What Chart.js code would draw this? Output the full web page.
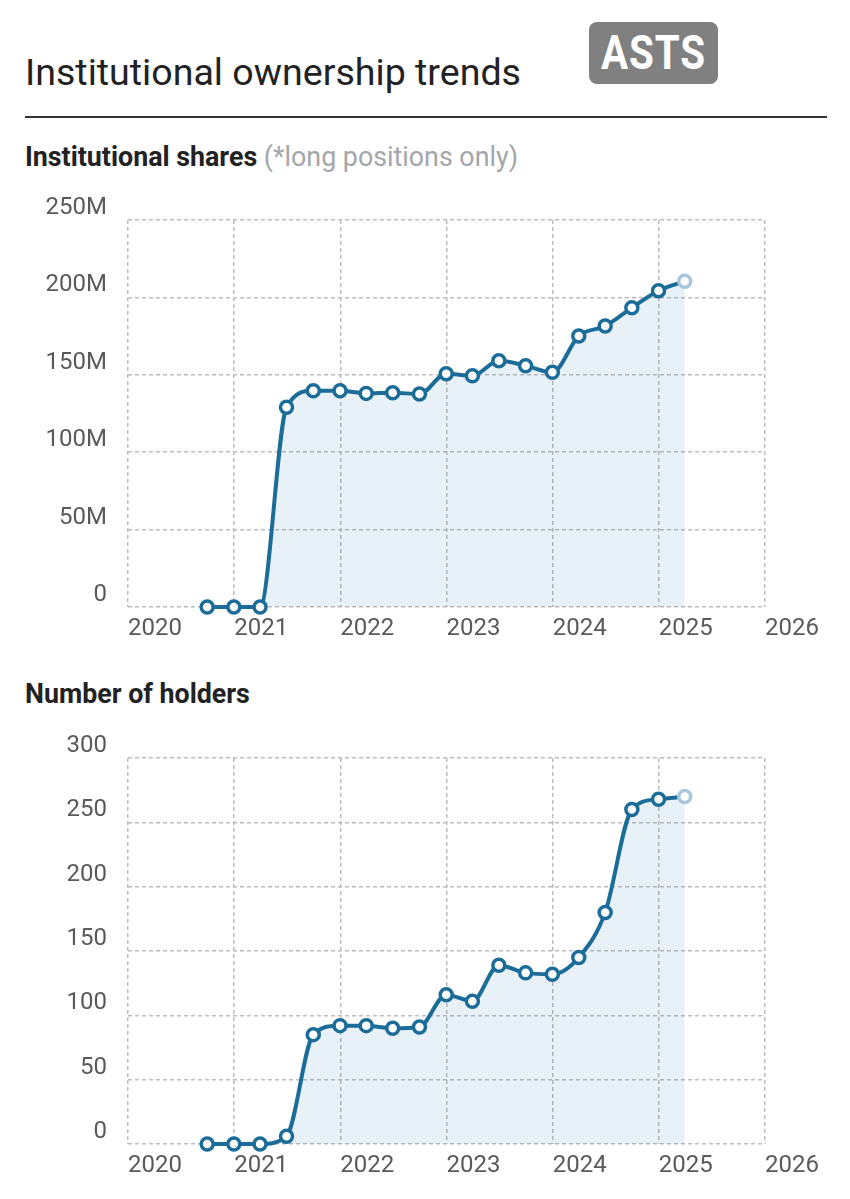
<!DOCTYPE html>
<html>
<head>
<meta charset="utf-8">
<script src="https://cdn.jsdelivr.net/npm/chart.js@4.4.1/dist/chart.umd.min.js"></script>
<style>
  html, body { margin: 0; padding: 0; background: #fff; }
  body { width: 850px; height: 1199px; position: relative; overflow: hidden; font-family: Roboto, "Noto Sans", sans-serif; }
  #title { position: absolute; left: 25px; top: 52px; font-size: 37.6px; line-height: 40px; color: #222; white-space: nowrap; }
  #logo { position: absolute; left: 589px; top: 22px; width: 129px; height: 62px; background: #808080; border-radius: 8px; }
  #logo span { position: absolute; left: 0; width: 129px; top: 7px; text-align: center; font-family: Roboto, sans-serif; font-weight: 700; font-size: 48px; line-height: 48px; color: #fff; transform: scaleX(0.84); transform-origin: 50% 50%; letter-spacing: 1px; }
  #rule { position: absolute; left: 25px; top: 116px; width: 802px; height: 2px; background: #333; }
  .h { position: absolute; left: 25px; font-size: 26.8px; line-height: 30px; font-weight: 700; color: #222; white-space: nowrap; }
  .h .note { font-weight: 400; color: #a3a6aa; }
  #h1 { top: 142px; }
  #h2 { top: 679px; }
  .wrap { position: absolute; left: 0; width: 850px; }
  #w1 { top: 190px; height: 460px; }
  #w2 { top: 728px; height: 471px; }
  canvas { display: block; }
</style>
</head>
<body>
<div id="title">Institutional ownership trends</div>
<div id="logo"><span>ASTS</span></div>
<div id="rule"></div>
<div id="h1" class="h">Institutional shares <span class="note">(*long positions only)</span></div>
<div id="w1" class="wrap"><canvas id="c1" width="850" height="460"></canvas></div>
<div id="h2" class="h">Number of holders</div>
<div id="w2" class="wrap"><canvas id="c2" width="850" height="471"></canvas></div>
<script>
// ---- data ----
const quarterDates = ['2020-09-30','2020-12-31','2021-03-31','2021-06-30','2021-09-30','2021-12-31',
  '2022-03-31','2022-06-30','2022-09-30','2022-12-31','2023-03-31','2023-06-30','2023-09-30',
  '2023-12-31','2024-03-31','2024-06-30','2024-09-30','2024-12-31','2025-03-31'];
const sharesMillions = [0, 0, 0, 129, 139.7, 139.7, 138, 138.4, 137.6, 150.7, 149.4, 159.1, 155.9,
  151.6, 175.1, 181.5, 193.3, 204.3, 210.4];
const holders = [0, 0, 0, 6, 85, 92, 92, 90, 91, 116, 111, 139, 133, 132, 145, 180, 260, 268, 270];
const yearTicks = [2020, 2021, 2022, 2023, 2024, 2025, 2026];
const sharesTicks = [0, 50, 100, 150, 200, 250];
const holderTicks = [0, 50, 100, 150, 200, 250, 300];

// ---- styling ----
const LINE = '#1c6c9a';
const LAST = '#a9c7db';
const FILL = 'rgba(25,115,185,0.1)';
const GRID = '#bdbdbd';
const TICK = '#5a5a5a';

function toYear(s) {
  const d = new Date(s + 'T00:00:00Z');
  const y = d.getUTCFullYear();
  const start = Date.UTC(y, 0, 1), end = Date.UTC(y + 1, 0, 1);
  return y + (d.getTime() - start) / (end - start);
}
const xs = quarterDates.map(toYear);

function makeChart(id, values, yTicks, fmt, xAxisH, padTop) {
  const pts = values.map((v, i) => ({ x: xs[i], y: v }));
  const borderColors = values.map((v, i) => i === values.length - 1 ? LAST : LINE);
  return new Chart(document.getElementById(id), {
    type: 'line',
    data: {
      datasets: [{
        data: pts,
        borderColor: LINE,
        borderWidth: 4,
        backgroundColor: FILL,
        fill: 'origin',
        cubicInterpolationMode: 'monotone',
        pointRadius: 6,
        pointBorderWidth: 3.5,
        pointBackgroundColor: '#fff',
        pointBorderColor: borderColors,
        clip: false
      }]
    },
    options: {
      responsive: false,
      animation: false,
      events: [],
      layout: { padding: { left: 0, right: 85, top: padTop, bottom: 0 } },
      plugins: { legend: { display: false }, tooltip: { enabled: false } },
      scales: {
        x: {
          type: 'linear',
          min: yearTicks[0],
          max: yearTicks[yearTicks.length - 1],
          afterBuildTicks: s => { s.ticks = yearTicks.map(v => ({ value: v })); },
          afterFit: s => { s.height = xAxisH; s.paddingLeft = 0; s.paddingRight = 0; },
          grid: { color: GRID, lineWidth: 1.5, drawTicks: false },
          border: { display: false, dash: [4, 3] },
          ticks: {
            align: 'start', padding: 8, maxRotation: 0, autoSkip: false,
            color: TICK, font: { family: 'Roboto', size: 24 },
            callback: v => String(v)
          }
        },
        y: {
          min: yTicks[0],
          max: yTicks[yTicks.length - 1],
          afterBuildTicks: s => { s.ticks = yTicks.map(v => ({ value: v })); },
          afterFit: s => { s.width = 128; s.paddingTop = 0; s.paddingBottom = 0; },
          grid: { color: GRID, lineWidth: 1.5, drawTicks: false },
          border: { display: false, dash: [4, 3] },
          ticks: {
            padding: 21, labelOffset: -12,
            color: TICK, font: { family: 'Roboto', size: 24 },
            callback: fmt
          }
        }
      }
    }
  });
}

makeChart('c1', sharesMillions, sharesTicks, v => v === 0 ? '0' : v + 'M', 43, 30);
makeChart('c2', holders, holderTicks, v => String(v), 55, 30);
</script>
</body>
</html>
